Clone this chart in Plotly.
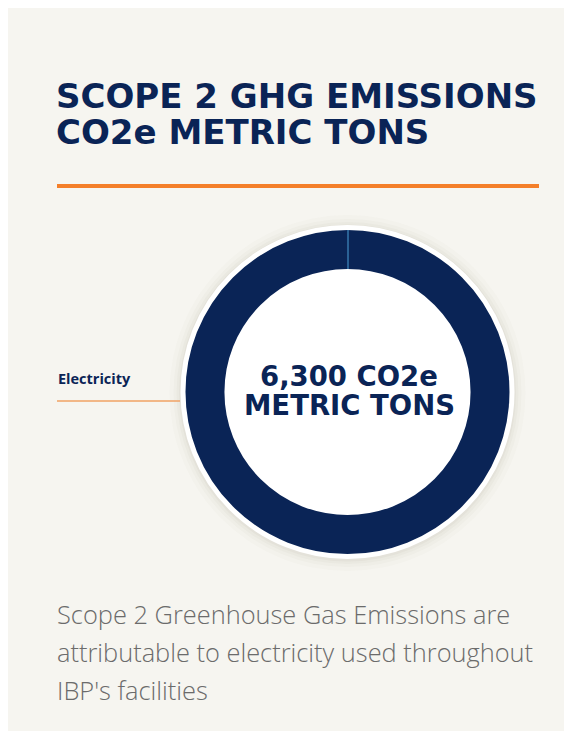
import plotly.graph_objects as go

# ---- data ----
categories = ["Electricity"]
values = [6300]
unit = "CO2e"
title_lines = ["SCOPE 2 GHG EMISSIONS", "CO2e METRIC TONS"]
caption_lines = [
    "Scope 2 Greenhouse Gas Emissions are",
    "attributable to electricity used throughout",
    "IBP's facilities",
]

OFF = 8  # page body margin
W, H = 564, 723
NAVY = "#0a2456"
ORANGE = "#f47f2a"
CARD = "#f6f5f0"

def fx(px):  # screenshot px -> paper
    return (px - OFF) / W

def fy(py):
    return 1 - (py - OFF) / H

cx, cy = 347.5, 392
r = 164.5
hole = 0.7325

fig = go.Figure()
fig.add_trace(go.Pie(
    labels=categories,
    values=values,
    hole=hole,
    sort=False,
    direction="clockwise",
    rotation=0,
    textinfo="none",
    showlegend=False,
    marker=dict(colors=[NAVY], line=dict(color="white", width=5)),
    domain=dict(x=[fx(cx - r), fx(cx + r)], y=[fy(cy + r), fy(cy - r)]),
    hoverinfo="label+value",
))

shapes = []
# soft shadow around donut
for rr, a in [(178, 0.018), (174, 0.022), (171, 0.03), (168.5, 0.04)]:
    shapes.append(dict(type="circle", xref="paper", yref="paper",
                       x0=fx(cx - rr), x1=fx(cx + rr), y0=fy(cy + rr + 1), y1=fy(cy - rr + 1),
                       fillcolor=f"rgba(90,80,60,{a})", line=dict(width=0), layer="below"))
# white hole
ri = 125
shapes.append(dict(type="circle", xref="paper", yref="paper",
                   x0=fx(cx - ri), x1=fx(cx + ri), y0=fy(cy + ri), y1=fy(cy - ri),
                   fillcolor="white", line=dict(width=0), layer="below"))
# slice boundary at top
shapes.append(dict(type="line", xref="paper", yref="paper",
                   x0=fx(cx + 0.5), x1=fx(cx + 0.5), y0=fy(cy - 123), y1=fy(cy - 162),
                   line=dict(color="#4a9fd6", width=1), layer="above"))
# orange rule under title
shapes.append(dict(type="line", xref="paper", yref="paper",
                   x0=fx(57), x1=fx(539), y0=fy(186), y1=fy(186),
                   line=dict(color=ORANGE, width=4)))
# label leader line
shapes.append(dict(type="line", xref="paper", yref="paper",
                   x0=fx(57), x1=fx(180), y0=fy(401), y1=fy(401),
                   line=dict(color="#f0a264", width=1.5)))

ann = []
for i, t in enumerate(title_lines):
    ann.append(dict(text=t, xref="paper", yref="paper", x=fx(54), y=fy(96 + 36 * i),
                    xanchor="left", yanchor="middle", showarrow=False,
                    font=dict(family="DejaVu Sans", size=34, color=NAVY, weight=700)))
ann.append(dict(text=categories[0], xref="paper", yref="paper", x=fx(56), y=fy(379),
                xanchor="left", yanchor="middle", showarrow=False,
                font=dict(family="Open Sans", size=14.5, color=NAVY, weight=700)))
center_lines = [f"{values[0]:,} {unit}", "METRIC TONS"]
for i, t in enumerate(center_lines):
    ann.append(dict(text=t, xref="paper", yref="paper", x=fx(349), y=fy(376 + 29 * i),
                    xanchor="center", yanchor="middle", showarrow=False,
                    font=dict(family="DejaVu Sans", size=27.5, color=NAVY, weight=700)))
for i, t in enumerate(caption_lines):
    ann.append(dict(text=t, xref="paper", yref="paper", x=fx(55), y=fy(614 + 38 * i),
                    xanchor="left", yanchor="middle", showarrow=False,
                    font=dict(family="Open Sans", size=25.4, color="#6b6b6b", weight=300)))

fig.update_layout(
    width=W, height=H,
    margin=dict(l=0, r=0, t=0, b=0),
    paper_bgcolor=CARD,
    plot_bgcolor=CARD,
    shapes=shapes,
    annotations=ann,
)
fig.write_html("out.html")
